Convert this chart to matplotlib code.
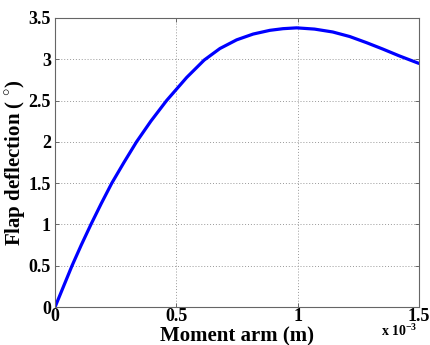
import matplotlib
matplotlib.use("Agg")
import matplotlib.pyplot as plt

moment_arm = [0, 0.07, 0.108, 0.148, 0.19, 0.234, 0.284, 0.336, 0.395, 0.46, 0.543, 0.615,
              0.68, 0.749, 0.817, 0.886, 0.94, 0.996, 1.07, 1.145, 1.215, 1.285, 1.35, 1.42, 1.5]
flap_deflection = [0, 0.5, 0.75, 1.0, 1.25, 1.5, 1.75, 2.0, 2.25, 2.5, 2.78, 2.99,
                   3.13, 3.235, 3.305, 3.35, 3.37, 3.38, 3.365, 3.33, 3.275, 3.20, 3.125, 3.04, 2.95]
x_ticks = [0, 0.5, 1, 1.5]
x_tick_labels = ["0", "0.5", "1", "1.5"]
y_ticks = [0, 0.5, 1, 1.5, 2, 2.5, 3, 3.5]
y_tick_labels = ["0", "0.5", "1", "1.5", "2", "2.5", "3", "3.5"]

plt.rcParams['font.family'] = ['Liberation Serif', 'DejaVu Serif']
plt.rcParams['mathtext.fontset'] = 'custom'
plt.rcParams['mathtext.rm'] = 'Liberation Serif:bold'
plt.rcParams['mathtext.bf'] = 'Liberation Serif:bold'

fig = plt.figure(figsize=(4.3, 3.45), dpi=100)
ax = fig.add_axes([0.128, 0.110, 0.846, 0.838])
ax.plot(moment_arm, flap_deflection, color=(0, 0, 1), lw=2.3,
        solid_capstyle='round', solid_joinstyle='round')
ax.set_xlim(0, 1.5)
ax.set_ylim(0, 3.5)
ax.set_xticks(x_ticks)
ax.set_xticklabels(x_tick_labels, fontsize=13, fontweight='bold')
ax.set_yticks(y_ticks)
ax.set_yticklabels(y_tick_labels, fontsize=13, fontweight='bold')
ax.tick_params(direction='in', length=3, width=0.6, colors='#555555', labelcolor='black',
               top=True, right=True)
ax.tick_params(axis='x', pad=1)
ax.tick_params(axis='y', pad=3)
ax.grid(True, linestyle=(0, (1, 2)), color='#999999', linewidth=0.7)
for s in ax.spines.values():
    s.set_color('#666666')
    s.set_linewidth(0.8)
ax.set_xlabel("Moment arm (m)", fontsize=15, fontweight='bold', labelpad=0.5)
ax.set_ylabel(r"Flap deflection ( $^{\circ}$)", fontsize=15, fontweight='bold', labelpad=0)
fig.text(0.887, 0.016, r"x 10$^{\mathrm{-3}}$", fontsize=10, fontweight='bold', ha='left', va='bottom')
fig.savefig("out.png", dpi=100)
